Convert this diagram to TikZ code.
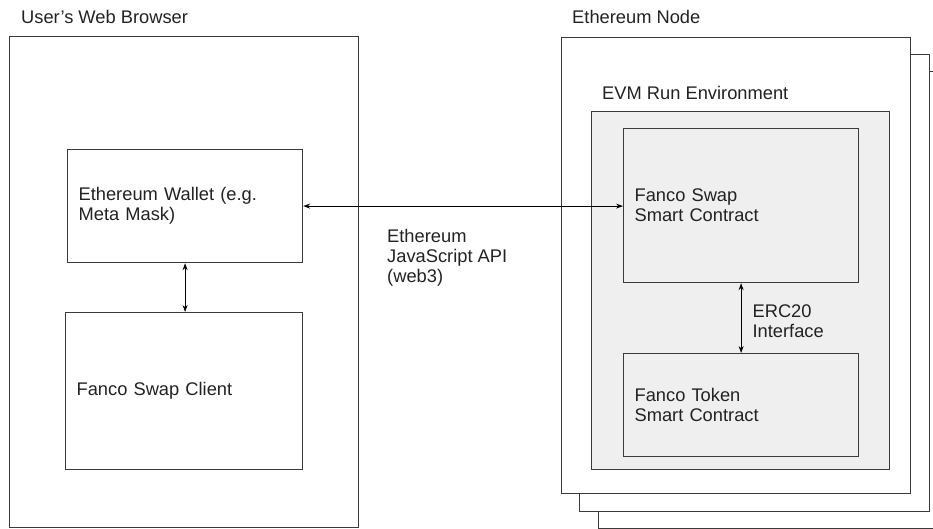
\documentclass[tikz,border=0pt]{standalone}
\usepackage{fontspec}
\setmainfont{Liberation Sans}
\usetikzlibrary{arrows.meta,positioning}
\definecolor{linegray}{HTML}{3A3A3A}
\definecolor{evmgray}{HTML}{EFEFEF}
\definecolor{textgray}{HTML}{222222}
\tikzset{
  frame/.style={draw=linegray, line width=1.2pt, fill=white, anchor=north west, inner sep=0pt},
  block/.style={draw=linegray, line width=1.2pt, anchor=north west, align=left,
    inner xsep=11pt, inner ysep=0pt, text width=#1},
  caption/.style={anchor=base west, inner sep=0pt},
  link/.style={{Stealth[length=7pt,width=5pt]}-{Stealth[length=7pt,width=5pt]}, line width=1pt}
}
\begin{document}
\begin{tikzpicture}  % ------ Navigateur et noeud Ethereum --------
      [x=1pt, y=-1pt, font=\fontsize{18.3}{20}\selectfont, text=textgray]
    \useasboundingbox (0,0) rectangle (933,529);
    % navigateur
    \node [frame, minimum width=349pt, minimum height=491pt] (browser) at (9,36) {};
    \node [block=213pt, minimum height=113pt] (wallet) at (67,149) {Ethereum Wallet (e.g.\\Meta Mask)};
    \node [block=215pt, minimum height=157pt] (client) at (65,312) {Fanco Swap Client};
    % noeud Ethereum (pile de trois cadres)
    \node [frame, minimum width=350pt, minimum height=457pt] (node3) at (598,71) {};
    \node [frame, minimum width=350pt, minimum height=457pt] (node2) at (579,54) {};
    \node [frame, minimum width=349pt, minimum height=456pt] (node1) at (561,37) {};
    \node [frame, fill=evmgray, minimum width=298pt, minimum height=358pt] (evm) at (591,111) {};
    \node [block=213pt, fill=evmgray, minimum height=154pt] (swapsc) at (623,128) {Fanco Swap\\Smart Contract};
    \node [block=213pt, fill=evmgray, minimum height=103pt] (tokensc) at (623,353) {Fanco Token\\Smart Contract};
    % liaisons
    \draw [link] (wallet.south) -- (wallet.south |- client.north);
    \draw [link] (wallet.east) -- (wallet.east -| swapsc.west);
    \draw [link] (swapsc.south) -- node [anchor=west, inner sep=0pt, xshift=11pt, yshift=-3pt, align=left] (erc) {ERC20\\Interface} (tokensc.north);
    % titres
    \node [caption] (browsertitle) at (21,23.5) {User's Web Browser};
    \node [caption] (nodetitle) at (572,23.5) {Ethereum Node};
    \node [caption] (evmtitle) at (602,99.5) {EVM Run Environment};
    \node [anchor=west, inner sep=0pt, align=left] (jsapi) at (387,258) {Ethereum\\JavaScript API\\(web3)};
\end{tikzpicture}
\end{document}
